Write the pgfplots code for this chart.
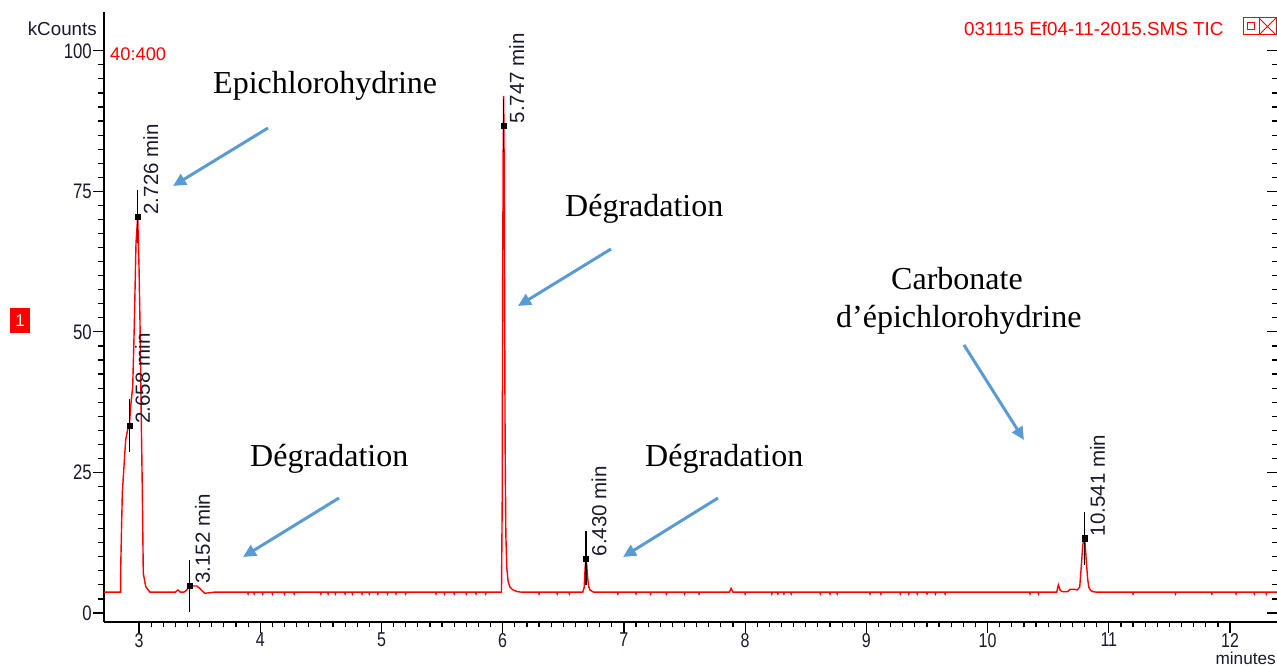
\documentclass[border=0pt]{standalone}
\usepackage{fontspec}
\setmainfont{Liberation Sans}
\newfontfamily\timesf{Liberation Serif}
\usepackage{graphicx}
\usepackage{pgfplots}
\pgfplotsset{compat=1.18}
\usetikzlibrary{arrows.meta}
\definecolor{trace}{RGB}{255,0,0}
\definecolor{arrowblue}{RGB}{91,155,213}
\definecolor{ticktext}{RGB}{25,25,45}
\begin{document}
\begin{tikzpicture}
\useasboundingbox (-104pt,-44pt) rectangle (1173pt,622pt);
\begin{axis}[
  scale only axis, width=1173pt, height=610pt,
  xmin=2.711, xmax=12.388, ymin=-1.6, ymax=106.9,
  axis x line*=bottom, axis y line*=left,
  axis line style={-, line width=1.3pt, black},
  xtick={3,4,...,12}, ytick={0,25,50,75,100},
  minor x tick num=9, minor y tick num=9,
  tick align=outside, major tick length=11pt, minor tick length=5.5pt,
  tick style={black, line width=1.2pt},
  /pgf/number format/assume math mode=true,
  xticklabel={\scalebox{0.8}[1]{\pgfmathprintnumber{\tick}}},
  yticklabel={\scalebox{0.8}[1]{\pgfmathprintnumber{\tick}}},
  xticklabel style={font=\fontsize{20}{20}\selectfont, text=ticktext, inner ysep=0pt, text depth=0pt},
  yticklabel style={font=\fontsize{21}{21}\selectfont, text=ticktext, inner xsep=1pt},
  clip=false,
]
\addplot[trace, line width=1.4pt] coordinates {
(2.711,3.7) (2.848,3.7) (2.849,8.2) (2.862,21.3) (2.879,27.2) (2.890,30.8) (2.906,32.6) (2.920,33.3) (2.931,36.7) (2.948,40.3) (2.961,51.2) (2.975,65.8) (2.989,70.5) (3.000,61.4) (3.008,51.6) (3.019,33.8) (3.027,21.9) (3.035,7.1) (3.055,4.7) (3.09,3.7)
(3.30,3.7) (3.321,4.1) (3.34,3.7) (3.37,3.7) (3.39,4.0) (3.415,4.7) (3.44,4.8) (3.476,4.8) (3.50,4.4) (3.517,4.0) (3.544,3.5) (3.58,3.6) (3.62,3.7)
(3.895,3.7)(3.9,3.4)(3.905,3.7)
(3.945,3.7)(3.95,3.4)(3.955,3.7)
(4.015,3.7)(4.02,3.4)(4.025,3.7)
(4.095,3.7)(4.1,3.4)(4.105,3.7)
(4.195,3.7)(4.2,3.4)(4.205,3.7)
(4.275,3.7)(4.28,3.4)(4.285,3.7)
(4.495,3.7)(4.5,3.4)(4.505,3.7)
(4.555,3.7)(4.56,3.4)(4.565,3.7)
(4.615,3.7)(4.62,3.4)(4.625,3.7)
(4.695,3.7)(4.7,3.4)(4.705,3.7)
(4.755,3.7)(4.76,3.4)(4.765,3.7)
(4.835,3.7)(4.84,3.4)(4.845,3.7)
(4.895,3.7)(4.9,3.4)(4.905,3.7)
(4.965,3.7)(4.97,3.4)(4.975,3.7)
(5.045,3.7)(5.05,3.4)(5.055,3.7)
(5.115,3.7)(5.12,3.4)(5.125,3.7)
(5.195,3.7)(5.2,3.4)(5.205,3.7)
(5.445,3.7)(5.45,3.4)(5.455,3.7)
(5.515,3.7)(5.52,3.4)(5.525,3.7)
(5.595,3.7)(5.6,3.4)(5.605,3.7)
(5.695,3.7)(5.7,3.4)(5.705,3.7)
(5.775,3.7)(5.78,3.4)(5.785,3.7)
(5.855,3.7)(5.86,3.4)(5.865,3.7)
(5.990,3.7) (5.996,20) (6.000,60) (6.004,82) (6.008,92) (6.012,80) (6.016,55) (6.020,30) (6.026,14) (6.034,8) (6.045,5.6) (6.06,4.6) (6.085,4.1) (6.12,3.8) (6.16,3.7)
(6.295,3.7)(6.3,3.4)(6.305,3.7)
(6.445,3.7)(6.45,3.4)(6.455,3.7)
(6.545,3.7)(6.55,3.4)(6.555,3.7)
(6.66,3.7) (6.672,4.5) (6.680,8) (6.686,9.8) (6.690,7.5) (6.695,8.0) (6.700,6.5) (6.708,4.8) (6.72,4.1) (6.75,3.7)
(6.945,3.7)(6.95,3.4)(6.955,3.7)
(7.095,3.7)(7.1,3.4)(7.105,3.7)
(7.215,3.7)(7.22,3.4)(7.225,3.7)
(7.345,3.7)(7.35,3.4)(7.355,3.7)
(7.495,3.7)(7.5,3.4)(7.505,3.7)
(7.615,3.7)(7.62,3.4)(7.625,3.7)
(7.87,3.7) (7.884,4.4) (7.90,3.7)
(7.995,3.7)(8.0,3.4)(8.005,3.7)
(8.215,3.7)(8.22,3.4)(8.225,3.7)
(8.265,3.7)(8.27,3.4)(8.275,3.7)
(8.315,3.7)(8.32,3.4)(8.325,3.7)
(8.375,3.7)(8.38,3.4)(8.385,3.7)
(8.615,3.7)(8.62,3.4)(8.625,3.7)
(8.695,3.7)(8.7,3.4)(8.705,3.7)
(8.755,3.7)(8.76,3.4)(8.765,3.7)
(9.025,3.7)(9.03,3.4)(9.035,3.7)
(9.115,3.7)(9.12,3.4)(9.125,3.7)
(9.275,3.7)(9.28,3.4)(9.285,3.7)
(9.345,3.7)(9.35,3.4)(9.355,3.7)
(9.415,3.7)(9.42,3.4)(9.425,3.7)
(9.495,3.7)(9.5,3.4)(9.505,3.7)
(9.565,3.7)(9.57,3.4)(9.575,3.7)
(9.645,3.7)(9.65,3.4)(9.655,3.7)
(10.345,3.7)(10.35,3.4)(10.355,3.7)
(10.415,3.7)(10.42,3.4)(10.425,3.7)
(10.57,3.7) (10.584,5.0) (10.60,4.0) (10.62,3.8) (10.66,3.8) (10.68,4.2) (10.72,4.2) (10.74,4.1) (10.76,4.6) (10.772,8) (10.785,12) (10.798,13.5) (10.806,12) (10.812,10) (10.818,8.2) (10.826,6) (10.835,4.6) (10.85,4.0) (10.87,3.8) (10.9,3.7)
(11.195,3.7)(11.2,3.4)(11.205,3.7)
(11.545,3.7)(11.55,3.4)(11.555,3.7)
(11.845,3.7)(11.85,3.4)(11.855,3.7)
(12.045,3.7)(12.05,3.4)(12.055,3.7)
(12.195,3.7)(12.2,3.4)(12.205,3.7)
(12.295,3.7)(12.3,3.4)(12.305,3.7)
(12.388,3.7)
};
% peak marker lines
\addplot[black, line width=1.6pt] coordinates {(2.989,65.8) (2.989,75.3)};
\addplot[black, line width=1.6pt] coordinates {(2.920,28.6) (2.920,38.0)};
\addplot[black, line width=1.6pt] coordinates {(3.415,0.1) (3.415,9.5)};
\addplot[black, line width=1.6pt] coordinates {(6.008,82.0) (6.008,91.5)};
\addplot[black, line width=1.6pt] coordinates {(6.687,5.0) (6.687,14.5)};
\addplot[black, line width=1.6pt] coordinates {(10.798,8.6) (10.798,18.0)};
\addplot[only marks, mark=square*, mark size=2.6pt, black] coordinates {
(2.989,70.5) (2.920,33.3) (3.415,4.8) (6.008,86.7) (6.687,9.7) (10.798,13.3)};
% peak labels
\begin{scope}[every node/.style={rotate=90, anchor=base west, inner sep=0pt, font=\fontsize{20.5}{20.5}\selectfont, text=ticktext}]
\node at ([xshift=20.5pt,yshift=2pt]axis cs:2.989,70.5) {2.726 min};
\node at ([xshift=20.5pt,yshift=2pt]axis cs:2.920,33.3) {2.658 min};
\node at ([xshift=20.5pt,yshift=2pt]axis cs:3.415,4.8) {3.152 min};
\node at ([xshift=20.5pt,yshift=2pt]axis cs:6.008,86.7) {5.747 min};
\node at ([xshift=20.5pt,yshift=2pt]axis cs:6.687,9.7) {6.430 min};
\node at ([xshift=20.5pt,yshift=2pt]axis cs:10.798,13.3) {10.541 min};
\end{scope}
\end{axis}
% right-hand ticks
\begin{axis}[
  scale only axis, width=1173pt, height=610pt,
  xmin=2.711, xmax=12.388, ymin=-1.6, ymax=106.9,
  hide x axis, axis y line*=right, axis line style={draw=none},
  ytick={0,25,50,75,100}, minor y tick num=9, yticklabels={},
  tick align=inside, major tick length=10pt, minor tick length=5.5pt,
  tick style={black, line width=1.2pt},
]
\end{axis}
% annotations in picture pixels
\begin{scope}[x=1pt,y=-1pt,shift={(-104pt,622pt)}]
\node[anchor=base east, inner sep=0pt, font=\fontsize{18.8}{18.8}\selectfont, text=ticktext] at (97,36) {kCounts};
\node[anchor=base west, inner sep=0pt, font=\fontsize{18.3}{18.3}\selectfont, text=red] at (110,61) {40:400};
\node[anchor=base west, inner sep=0pt, font=\fontsize{18.8}{18.8}\selectfont, text=red] at (964,36) {031115 Ef04-11-2015.SMS TIC};
\draw[red, line width=1pt] (1243,18) rectangle (1259,35);
\draw[red, line width=1pt] (1247.5,22.5) rectangle (1254.5,30);
\draw[red, line width=1pt] (1259,18) rectangle (1276,35);
\draw[red, line width=1pt] (1259,18) -- (1276,35) (1259,35) -- (1276,18);
\node[anchor=base east, inner sep=0pt, text height=11pt, text depth=0pt, font=\fontsize{17.2}{17.2}\selectfont, text=ticktext] at (1276,664.5) {minutes};
\fill[red] (10,308) rectangle (30,333);
\node[text=white, font=\fontsize{17}{17}\selectfont] at (20,320.5) {1};
\begin{scope}[every node/.style={anchor=base west, inner sep=0pt, font=\timesf\fontsize{32}{36}\selectfont}]
\node at (213,94) {Epichlorohydrine};
\node at (565,217) {Dégradation};
\node at (250,467) {Dégradation};
\node at (645,467) {Dégradation};
\node at (891,290) {Carbonate};
\node at (836,328) {d’épichlorohydrine};
\end{scope}
\begin{scope}[arrowblue, line width=3pt, -{Triangle[length=13pt,width=12pt]}]
\draw (268,128) -- (173,186);
\draw (611,249) -- (518,306);
\draw (339,498) -- (243,557);
\draw (718,498) -- (623,557);
\draw (964,345) -- (1024,440);
\end{scope}
\end{scope}
\end{tikzpicture}
\end{document}
